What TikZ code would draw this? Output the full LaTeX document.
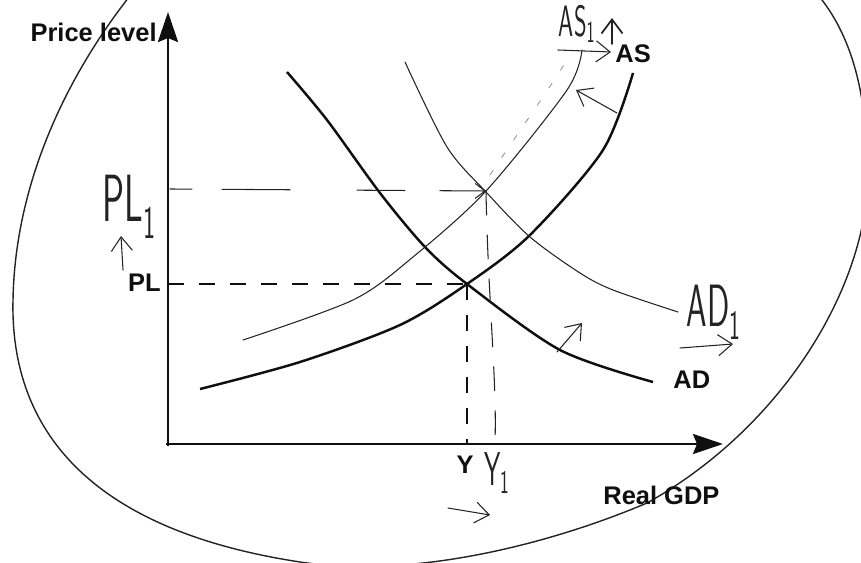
\documentclass[tikz,border=0pt]{standalone}
\usepackage{fontspec}
\usepackage{tikz}
\usetikzlibrary{arrows.meta}
\newfontfamily\labelfont{Liberation Sans}
\definecolor{inkclr}{RGB}{15,15,15}
\definecolor{penclr}{RGB}{35,35,35}
\definecolor{faintclr}{RGB}{150,150,150}
\newcommand{\handtext}[1]{\scalebox{0.55}[1]{\sffamily #1}}

\begin{document}
\begin{tikzpicture}[x=0.02cm, y=-0.02cm,
  axis/.style={inkclr, line width=1.6pt, -{Stealth[length=0.6cm, width=0.4cm, inset=0.08cm]}},
  curve/.style={inkclr, line width=1.4pt},
  guide/.style={inkclr, line width=1.4pt, dash pattern=on 0.32cm off 0.3cm},
  pen/.style={penclr, line width=0.6pt, line cap=round},
  penarrow/.style={pen, -{Straight Barb[length=0.28cm, width=0.42cm]}},
  lbl/.style={inkclr, font=\labelfont\fontsize{14.5}{17}\selectfont\bfseries, inner sep=0pt},
  hw/.style={penclr, inner sep=0pt}]
  \useasboundingbox (0,0) rectangle (861,563);
  \clip (0,0) rectangle (861,563);
  % big loop round the whole graph
  \draw[pen, line width=0.8pt] (160,-40) .. controls (70,60) and (15,180) .. (13,300)
    .. controls (10,430) and (90,530) .. (300,562)
    .. controls (420,580) and (560,540) .. (647,503)
    .. controls (760,440) and (840,330) .. (862,227)
    .. controls (872,150) and (868,60) .. (822,0)
    -- (800,-30);
  % axes
  \coordinate (O) at (168,444);
  \draw[axis] (168,446) -- (168,12);
  \draw[axis] (166,444) -- (723,444);
  \node[lbl, anchor=base east] (ylab) at (157,42) {Price level};
  \node[lbl, anchor=base west] (xlab) at (603,504) {Real GDP};
  % AD and AS curves
  \draw[curve] plot[smooth] coordinates {(287,72) (327,120) (380,193) (425,247) (467,284)
    (560,350) (653,382)};
  \draw[curve] plot[smooth] coordinates {(200,389) (300,362) (400,325) (467,284) (530,235)
    (603,150) (633,73)};
  \node[lbl, anchor=base west] (as) at (615,63) {AS};
  \node[lbl, anchor=base west] (ad) at (673,388) {AD};
  % equilibrium
  \coordinate (E0) at (467,284);
  \draw[guide] (168,284) -- (E0);
  \draw[guide] (E0) -- (467,444);
  \node[lbl, anchor=base east] (pl) at (161,292) {PL};
  \node[lbl, anchor=base] (y) at (465,473) {Y};
  % handwritten shifts
  \coordinate (E1) at (486,191);
  \draw[pen] plot[smooth] coordinates {(405,62) (447,147) (486,192) (530,237) (580,273)
    (613,290) (678,312)};
  \draw[pen] plot[smooth] coordinates {(243,340) (353,300) (413,257) (486,191) (567,90)
    (582,50)};
  \draw[faintclr, line width=0.5pt, dash pattern=on 0.12cm off 0.3cm]
    (490,175) .. controls (520,130) and (545,95) .. (567,60);
  \draw[pen, dash pattern=on 0.44cm off 0.6cm on 1.36cm off 1.34cm on 0.96cm off 0.7cm on 0.9cm,
    -{Straight Barb[length=0.2cm, width=0.3cm]}] (170,189) -- (E1);
  \draw[pen, dash pattern=on 0.48cm off 0.4cm] (E1) .. controls (488,300) and (497,380) .. (495,442);
  \node[hw, font=\fontsize{38}{40}\selectfont] (pl1) at (129,207) {\handtext{PL\textsubscript{1}}};
  \node[hw, font=\fontsize{34}{36}\selectfont] (ad1) at (714,312) {\handtext{AD\textsubscript{1}}};
  \node[hw, font=\fontsize{27}{29}\selectfont] (y1) at (497,473) {\handtext{Y\textsubscript{1}}};
  \node[hw, font=\fontsize{25}{27}\selectfont] (as1) at (577,24) {\handtext{AS\textsubscript{1}}};
  \draw[penarrow] (123,270) -- (121,236);
  \draw[penarrow] (557,352) -- (582,323);
  \draw[penarrow] (680,348) -- (733,344);
  \draw[penarrow] (448,508) -- (490,515);
  \draw[penarrow] (617,113) -- (576,90);
  \draw[penarrow] (558,50) -- (611,52);
  \draw[penarrow, line width=1pt] (612,44) -- (612,18);
\end{tikzpicture}
\end{document}
